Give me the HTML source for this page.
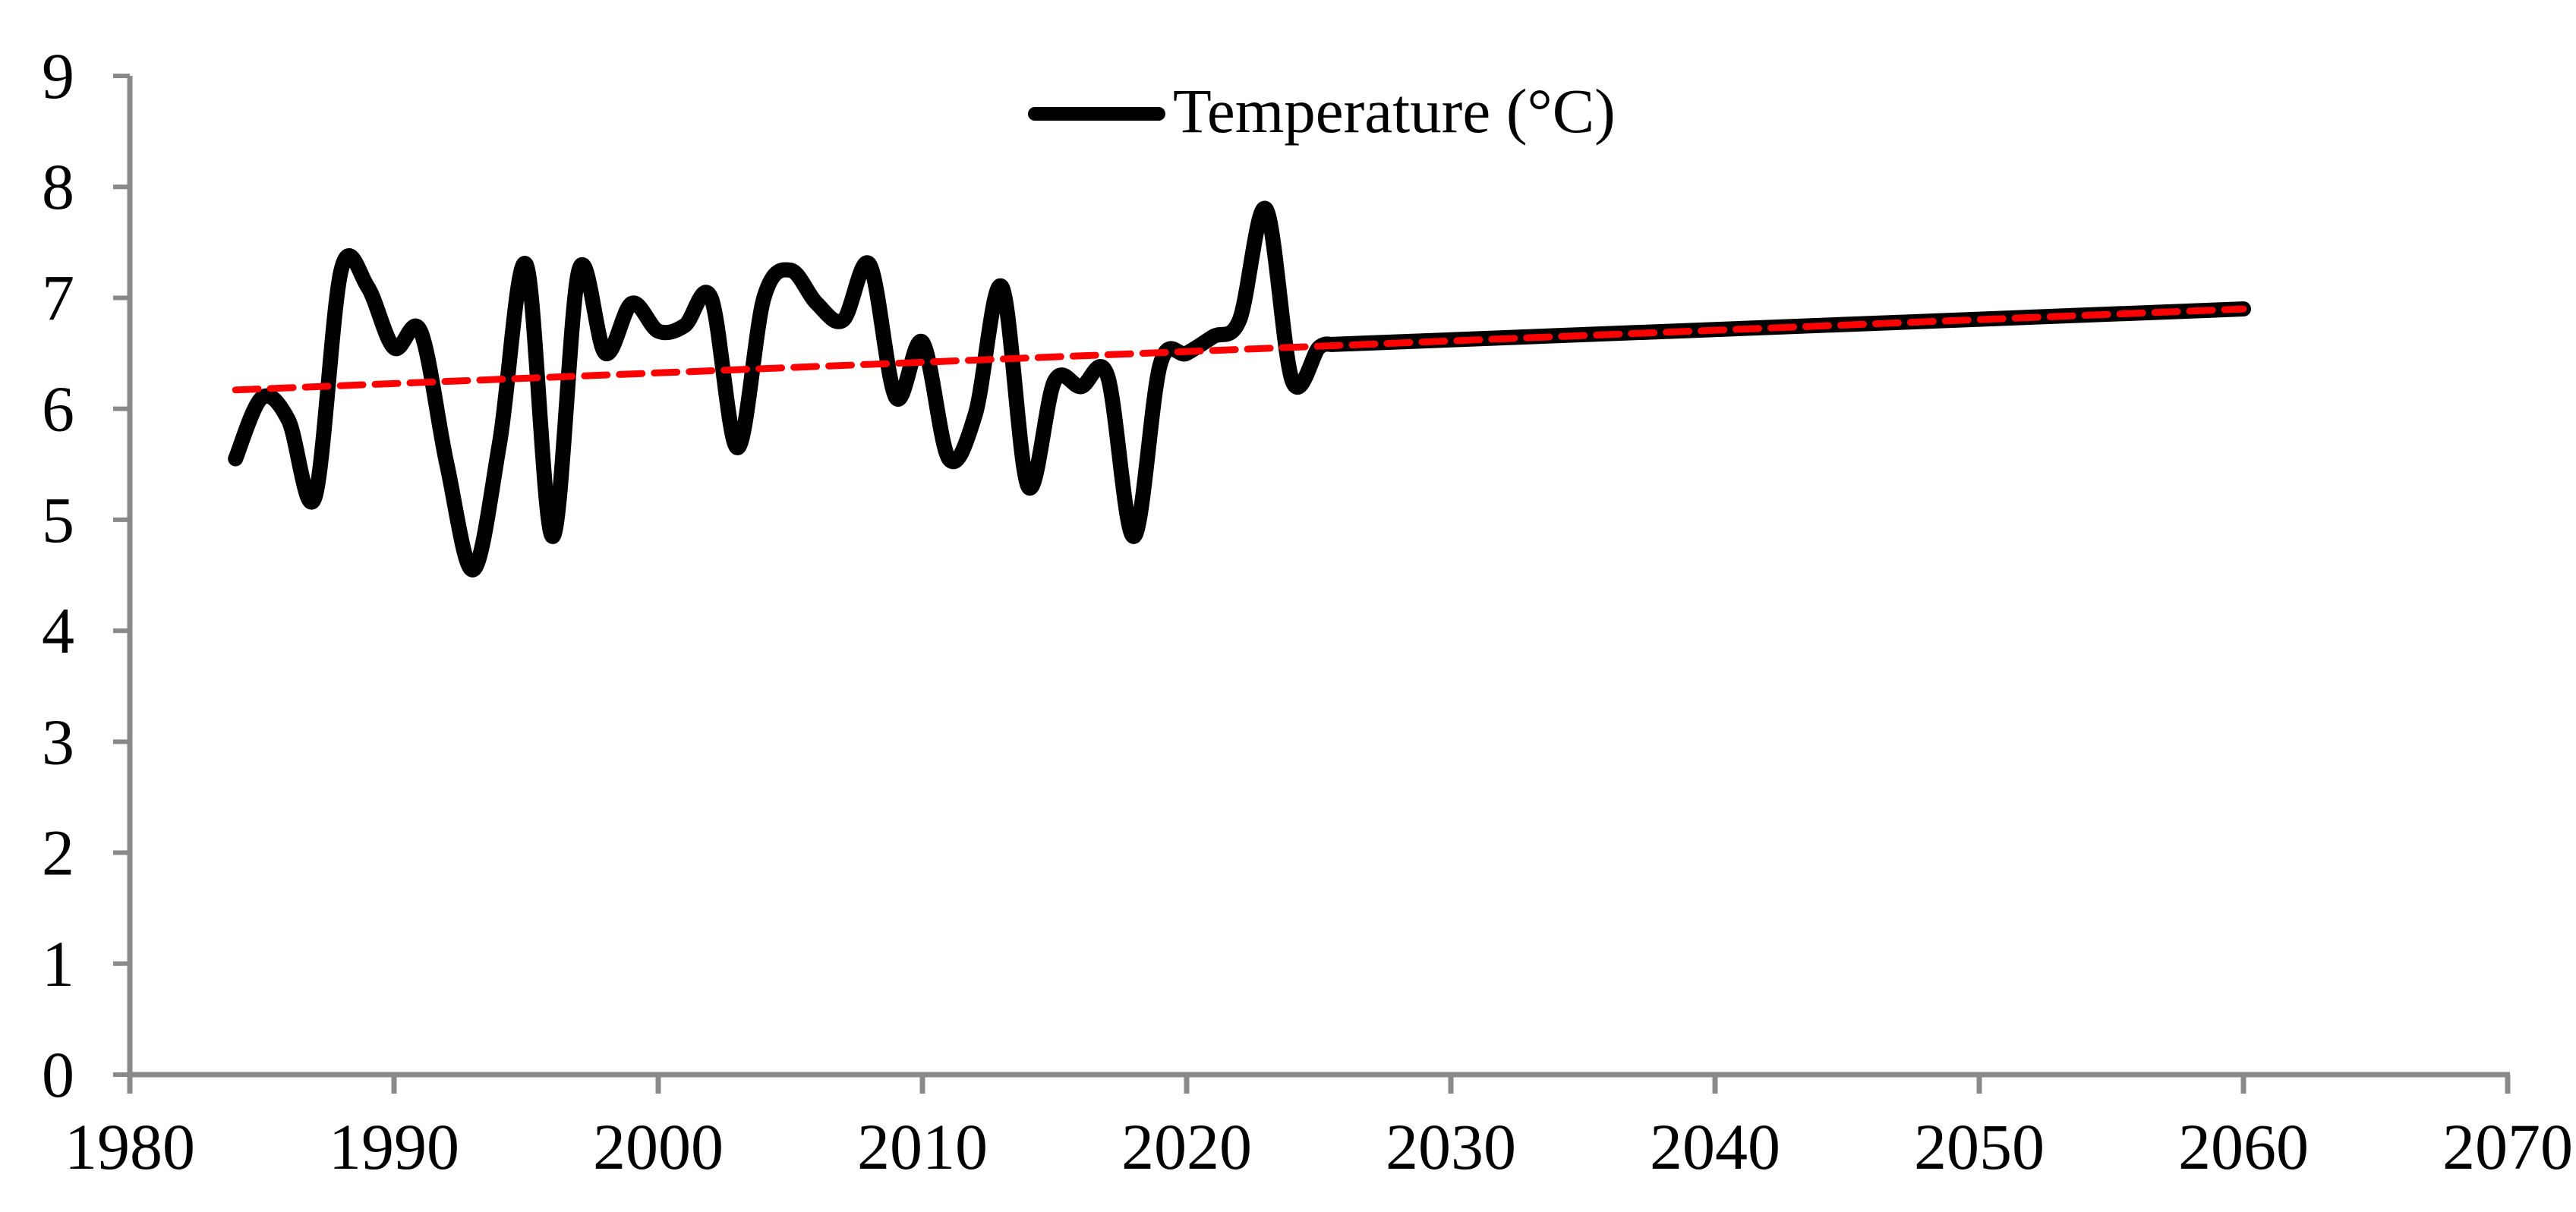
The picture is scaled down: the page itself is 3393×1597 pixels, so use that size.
<!DOCTYPE html>
<html><head><meta charset="utf-8"><style>
html,body{margin:0;padding:0;background:#fff;}
svg{display:block;font-family:"Liberation Serif","Times New Roman",serif;}
</style></head><body>
<svg id="chart" width="3393" height="1597" viewBox="0 0 3393 1597" xmlns="http://www.w3.org/2000/svg">
<g id="axes"></g>
<g id="series"></g>
<g>
<line x1="1363" y1="150" x2="1526" y2="150" stroke="#000" stroke-width="18" stroke-linecap="round"/>
<text x="1545" y="174" font-size="83">Temperature (°C)</text>
</g>
</svg>
<script>
const years=[1984,1985,1986,1987,1988,1989,1990,1991,1992,1993,1994,1995,1996,1997,1998,1999,2000,2001,2002,2003,2004,2005,2006,2007,2008,2009,2010,2011,2012,2013,2014,2015,2016,2017,2018,2019,2020,2021,2022,2023,2024,2025];
const temps=[5.55,6.1,5.9,5.2,7.25,7.1,6.55,6.7,5.5,4.55,5.7,7.3,4.85,7.25,6.5,6.95,6.7,6.75,7.0,5.65,7.0,7.25,6.95,6.8,7.3,6.1,6.6,5.55,5.95,7.1,5.3,6.25,6.2,6.3,4.85,6.4,6.5,6.65,6.8,7.8,6.25,6.55];
const projYears=[2025.5,2060];
const projTemps=[6.58,6.9];
const trendYears=[1984,2060];
const trendTemps=[6.17,6.9];
const yTicks=[0,1,2,3,4,5,6,7,8,9];
const xTicks=[1980,1990,2000,2010,2020,2030,2040,2050,2060,2070];

const X0=171,X1=3303,Y0=1416,Y1=100;
const sx=v=>X0+(v-1980)/(2070-1980)*(X1-X0);
const sy=v=>Y0-(v/9)*(Y0-Y1);
const NS="http://www.w3.org/2000/svg";
const axes=document.getElementById('axes'),series=document.getElementById('series');
function mk(tag,attrs,parent){const e=document.createElementNS(NS,tag);for(const k in attrs)e.setAttribute(k,attrs[k]);parent.appendChild(e);return e;}
const ya=mk('line',{x1:X0,y1:Y1,x2:X0,y2:Y0+10,stroke:'#898989','stroke-width':7},axes);


const xa=mk('line',{x1:X0-3,y1:Y0,x2:X1+3,y2:Y0,stroke:'#898989','stroke-width':7},axes);


yTicks.forEach(v=>{
 const t=mk('line',{x1:X0-22,y1:sy(v),x2:X0,y2:sy(v),stroke:'#898989','stroke-width':6},axes);
 
 
 const l=mk('text',{x:98,y:sy(v)+29,'font-size':86,'text-anchor':'end'},axes);
 l.textContent=v;
 
 
});
xTicks.forEach(v=>{
 const t=mk('line',{x1:sx(v),y1:Y0,x2:sx(v),y2:Y0+25,stroke:'#898989','stroke-width':7},axes);
 
 
 const l=mk('text',{x:sx(v),y:Y0+124,'font-size':86,'text-anchor':'middle'},axes);
 l.textContent=v;
 
 
});
function smooth(pts){
 let d='M'+pts[0][0]+','+pts[0][1];
 for(let i=0;i<pts.length-1;i++){
  const p0=pts[i-1]||pts[i],p1=pts[i],p2=pts[i+1],p3=pts[i+2]||p2;
  const c1=[p1[0]+(p2[0]-p0[0])/6,p1[1]+(p2[1]-p0[1])/6];
  const c2=[p2[0]-(p3[0]-p1[0])/6,p2[1]-(p3[1]-p1[1])/6];
  d+=' C'+c1[0]+','+c1[1]+' '+c2[0]+','+c2[1]+' '+p2[0]+','+p2[1];
 }
 return d;
}
const pts=years.map((y,i)=>[sx(y),sy(temps[i])]);
pts.push([sx(projYears[0]),sy(projTemps[0])]);
let d=smooth(pts);
for(let i=1;i<projYears.length;i++) d+=' L'+sx(projYears[i])+','+sy(projTemps[i]);
const obs=mk('path',{d:d,fill:'none',stroke:'#000','stroke-width':20,'stroke-linejoin':'round','stroke-linecap':'round'},series);


const tr=mk('line',{x1:sx(trendYears[0]),y1:sy(trendTemps[0]),x2:sx(trendYears[1]),y2:sy(trendTemps[1]),stroke:'#ff0000','stroke-width':9,'stroke-dasharray':'30 16','stroke-linecap':'round'},series);


</script>
</body></html>
